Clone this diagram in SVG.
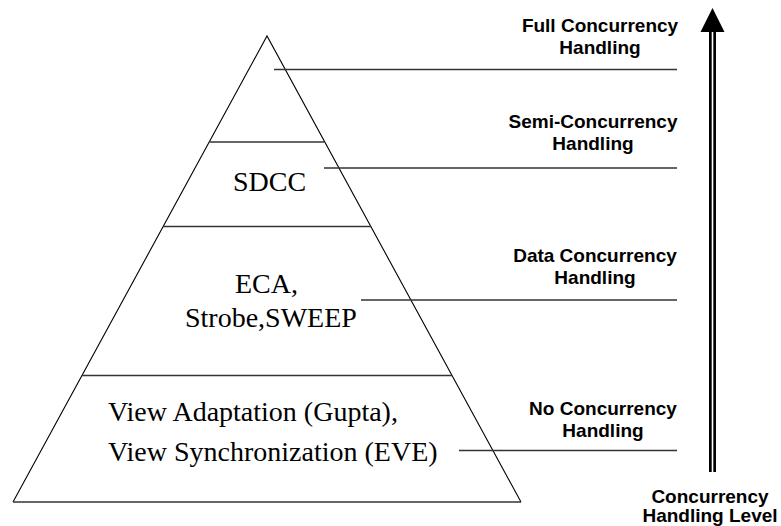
<svg xmlns="http://www.w3.org/2000/svg" width="781" height="526" viewBox="0 0 781 526">
<style>
.bg{fill:#fff}
.edge{stroke:#000;stroke-width:1.1;fill:none}
.band{stroke:#333;stroke-width:1.5;fill:none}
.conn{stroke:#333;stroke-width:1.5;fill:none}
.serif{font-family:"Liberation Serif","Times New Roman",serif;font-size:28px;fill:#000}
.lbl{font-family:"Liberation Sans",Arial,sans-serif;font-size:19px;font-weight:bold;fill:#000;text-anchor:middle}
</style>
<rect class="bg" x="0" y="0" width="781" height="526"/>
<g id="pyramid">
<polyline class="edge" points="13,502 267,36 521,502"/>
<line class="band" x1="209.5" y1="142" x2="324.5" y2="142"/>
<line class="band" x1="163" y1="226.5" x2="371" y2="226.5"/>
<line class="band" x1="82" y1="375.5" x2="452" y2="375.5"/>
<line class="band" x1="13" y1="502" x2="521" y2="502"/>
</g>
<g id="level-sdcc"><text class="serif" x="233" y="191">SDCC</text></g>
<g id="level-eca">
<text class="serif" x="235" y="293">ECA,</text>
<text class="serif" x="185" y="327">Strobe,SWEEP</text>
</g>
<g id="level-view">
<text class="serif" x="108" y="421">View Adaptation (Gupta),</text>
<text class="serif" x="108" y="461">View Synchronization (EVE)</text>
</g>
<g id="label-full">
<text class="lbl" x="600" y="32">Full Concurrency</text>
<text class="lbl" x="600" y="54">Handling</text>
</g>
<g id="label-semi">
<text class="lbl" x="593" y="128">Semi-Concurrency</text>
<text class="lbl" x="593" y="150">Handling</text>
</g>
<g id="label-data">
<text class="lbl" x="595" y="262">Data Concurrency</text>
<text class="lbl" x="595" y="284">Handling</text>
</g>
<g id="label-no">
<text class="lbl" x="603" y="415">No Concurrency</text>
<text class="lbl" x="603" y="437">Handling</text>
</g>
<g id="connectors">
<line class="conn" x1="274" y1="69.5" x2="677" y2="69.5"/>
<line class="conn" x1="324" y1="168" x2="677" y2="168"/>
<line class="conn" x1="361" y1="300" x2="677" y2="300"/>
<line class="conn" x1="459" y1="450.5" x2="677" y2="450.5"/>
</g>
<g id="axis-arrow">
<line x1="712.5" y1="30" x2="712.5" y2="472" stroke="#000" stroke-width="7"/>
<line x1="712.5" y1="30" x2="712.5" y2="472" stroke="#fff" stroke-width="1.6"/>
<polygon points="712.5,8 700.5,32 724.5,32" fill="#000"/>
</g>
<g id="axis-label">
<text class="lbl" x="710" y="503">Concurrency</text>
<text class="lbl" x="710" y="522">Handling Level</text>
</g>
</svg>
